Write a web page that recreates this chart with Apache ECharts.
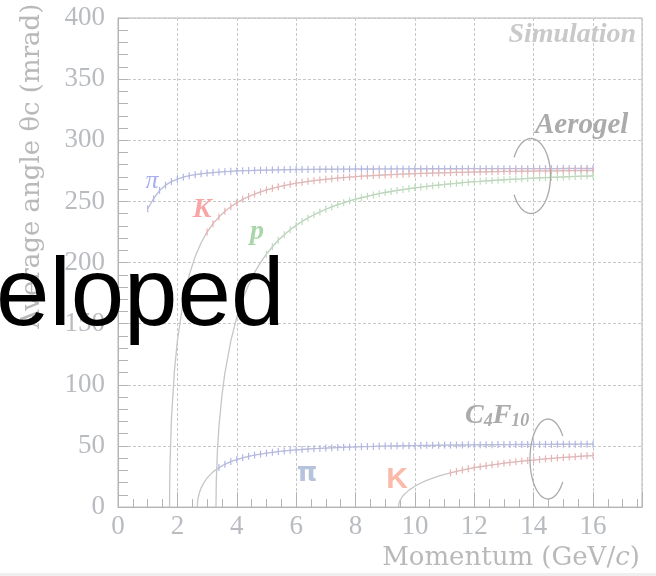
<!DOCTYPE html>
<html>
<head>
<meta charset="utf-8">
<script src="https://cdn.jsdelivr.net/npm/echarts@6/dist/echarts.min.js"></script>
<style>
  html, body { margin: 0; padding: 0; background: #fff; }
  #chart { width: 656px; height: 576px; }
</style>
</head>
<body>
<div id="chart"></div>
<script>
// momentum points of the simulation (GeV/c)
var momenta = [1.0, 1.2, 1.4, 1.6, 1.8, 2.0, 2.2, 2.4, 2.6, 2.8, 3.0, 3.2, 3.4, 3.6, 3.8, 4.0, 4.2, 4.4, 4.6, 4.8,
  5.0, 5.2, 5.4, 5.6, 5.8, 6.0, 6.2, 6.4, 6.6, 6.8, 7.0, 7.2, 7.4, 7.6, 7.8, 8.0, 8.2, 8.4, 8.6, 8.8,
  9.0, 9.2, 9.4, 9.6, 9.8, 10.0, 10.2, 10.4, 10.6, 10.8, 11.0, 11.2, 11.4, 11.6, 11.8, 12.0, 12.2, 12.4, 12.6, 12.8,
  13.0, 13.2, 13.4, 13.6, 13.8, 14.0, 14.2, 14.4, 14.6, 14.8, 15.0, 15.2, 15.4, 15.6, 15.8, 16.0];

// aerogel, angle in mrad
var aeroPi = [244.0, 252.2, 259.0, 263.3, 266.2, 268.3, 269.8, 271.0, 271.9, 272.6, 273.2, 273.6, 274.0, 274.3, 274.6, 274.9, 275.1, 275.2, 275.4, 275.5,
  275.6, 275.7, 275.8, 275.9, 276.0, 276.1, 276.1, 276.2, 276.2, 276.3, 276.3, 276.3, 276.4, 276.4, 276.4, 276.5, 276.5, 276.5, 276.5, 276.6,
  276.6, 276.6, 276.6, 276.6, 276.6, 276.7, 276.7, 276.7, 276.7, 276.7, 276.7, 276.7, 276.7, 276.8, 276.8, 276.8, 276.8, 276.8, 276.8, 276.8,
  276.8, 276.8, 276.8, 276.8, 276.8, 276.8, 276.8, 276.8, 276.8, 276.8, 276.9, 276.9, 276.9, 276.9, 276.9, 276.9];
var aeroK = [224.9, 231.8, 237.3, 241.9, 245.7, 248.9, 251.7, 254.0, 256.0, 257.8,
  259.4, 260.7, 261.9, 263.0, 264.0, 264.9, 265.6, 266.4, 267.0, 267.6,
  268.1, 268.6, 269.1, 269.5, 269.9, 270.2, 270.6, 270.9, 271.2, 271.4,
  271.7, 271.9, 272.1, 272.3, 272.5, 272.7, 272.9, 273.0, 273.2, 273.3,
  273.4, 273.6, 273.7, 273.8, 273.9, 274.0, 274.1, 274.2, 274.3, 274.4,
  274.5, 274.5, 274.6, 274.7, 274.7, 274.8, 274.9, 274.9, 275.0, 275.0,
  275.1, 275.1, 275.2, 275.2, 275.3, 275.3];
var aeroP = [206.9, 212.9, 218.2, 222.8, 226.8, 230.4, 233.6, 236.5, 239.1, 241.4,
  243.6, 245.5, 247.3, 248.9, 250.4, 251.8, 253.0, 254.2, 255.3, 256.3,
  257.3, 258.1, 259.0, 259.7, 260.4, 261.1, 261.7, 262.3, 262.9, 263.4,
  263.9, 264.4, 264.8, 265.3, 265.7, 266.1, 266.4, 266.8, 267.1, 267.4,
  267.7, 268.0, 268.3, 268.5, 268.8, 269.0, 269.2, 269.4, 269.6, 269.8,
  270.0, 270.2, 270.4, 270.6, 270.7, 270.9];

// C4F10
var c4Pi = [32.3, 35.0, 37.2, 38.9, 40.3, 41.5, 42.5, 43.4, 44.1, 44.8,
  45.4, 45.9, 46.4, 46.8, 47.1, 47.5, 47.8, 48.0, 48.3, 48.5,
  48.7, 48.9, 49.1, 49.2, 49.4, 49.5, 49.6, 49.8, 49.9, 50.0,
  50.1, 50.2, 50.2, 50.3, 50.4, 50.5, 50.5, 50.6, 50.7, 50.7,
  50.8, 50.8, 50.9, 50.9, 51.0, 51.0, 51.0, 51.1, 51.1, 51.1,
  51.2, 51.2, 51.2, 51.3, 51.3, 51.3, 51.3, 51.4, 51.4, 51.4,
  51.4, 51.5, 51.5, 51.5];
var c4K = [28.0, 29.2, 30.3, 31.3, 32.2, 33.0, 33.8, 34.6, 35.2, 35.9,
  36.5, 37.0, 37.6, 38.1, 38.5, 39.0, 39.4, 39.8, 40.2, 40.6,
  40.9, 41.2, 41.6, 41.9, 42.1];

// expected curves just above threshold
var aeroKRiseP = [1.7365, 1.74, 1.75, 1.8, 1.9, 2.0, 2.2, 2.4, 2.6, 2.8];
var aeroKRise = [0, 17.3, 33.9, 72.1, 111.2, 136.1, 168.7, 189.9, 205.0, 216.2];
var aeroPRiseP = [3.30, 3.31, 3.35, 3.4, 3.5, 3.6, 3.8, 4.0, 4.2, 4.4, 4.6, 4.8];
var aeroPRise = [0, 21.0, 47.0, 65.8, 91.2, 109.5, 136.0, 155.1, 170.0, 181.9, 191.7, 199.9];
var c4PiRiseP = [2.671, 2.68, 2.70, 2.75, 2.8, 2.9, 3.0, 3.2];
var c4PiRise = [0, 4.3, 7.7, 12.4, 15.7, 20.3, 23.8, 28.8];
var c4KRiseP = [9.448, 9.46, 9.5, 9.6, 9.8, 10.0, 10.2, 10.4, 10.6, 10.8, 11.0];
var c4KRise = [0, 2.7, 5.5, 9.3, 13.9, 17.1, 19.7, 21.8, 23.7, 25.3, 26.7];

var yTicks = [0, 50, 100, 150, 200, 250, 300, 350, 400];
var xTicks = [0, 2, 4, 6, 8, 10, 12, 14, 16];

function pairs(ps, vs) {
  return vs.map(function (v, i) { return [ps[i], v]; });
}

var aeroPiData = pairs(momenta, aeroPi);
var aeroKData = pairs(momenta.slice(10), aeroK);
var aeroPData = pairs(momenta.slice(20), aeroP);
var c4PiData = pairs(momenta.slice(12), c4Pi);
var c4KData = pairs(momenta.slice(51), c4K);

var serif = '"Liberation Serif", serif';
var grey = '#b8bbc0';

function curve(data) {
  return {
    type: 'line', data: data, symbol: 'none', silent: true, z: 2,
    lineStyle: { color: '#c6c6c6', width: 1.3 }
  };
}
function sim(data, color) {
  return {
    type: 'line', data: data, symbol: 'rect', symbolSize: [1.2, 7], showAllSymbol: true, z: 3,
    itemStyle: { color: color },
    lineStyle: { color: color, width: 1, opacity: 0.6 }
  };
}

// open ellipse used as a bracket
function bracket(cx, cy, rx, ry, a0, a1) {
  var pts = [];
  for (var i = 0; i <= 60; i++) {
    var a = (a0 + (a1 - a0) * i / 60) * Math.PI / 180;
    pts.push([cx + rx * Math.cos(a), cy + ry * Math.sin(a)]);
  }
  return { type: 'polyline', shape: { points: pts }, style: { stroke: '#a9a9a9', lineWidth: 1.3, fill: null }, z: 10 };
}

var chart = echarts.init(document.getElementById('chart'));
var option = {
  animation: false,
  backgroundColor: '#fff',
  grid: { left: 118, right: 14, top: 18, bottom: 61, show: true, borderColor: '#b4b4b4', borderWidth: 1 },
  xAxis: [{
    type: 'value', min: 0, max: 17.65, interval: 2,
    name: 'Momentum (GeV/{i|c})', nameLocation: 'middle', nameGap: 28,
    nameTextStyle: {
      fontFamily: '"DejaVu Serif", serif', fontSize: 26, color: '#b9b9b9', padding: [0, 0, 0, 262],
      rich: { i: { fontFamily: '"DejaVu Serif", serif', fontStyle: 'italic', fontSize: 26, color: '#b9b9b9' } }
    },
    axisLine: { lineStyle: { color: '#b4b4b4', width: 1 } },
    axisTick: { inside: true, length: 15, lineStyle: { color: '#b4b4b4' } },
    axisLabel: {
      margin: 6, fontFamily: serif, fontSize: 27, color: grey,
      formatter: function (v) { return xTicks.indexOf(v) >= 0 ? String(v) : ''; }
    },
    splitLine: { show: true, lineStyle: { color: '#c8c8c8', type: [3, 2], width: 1 } }
  }, {
    type: 'value', min: 0, max: 17.65, interval: 0.5, position: 'bottom',
    axisLine: { show: false },
    axisTick: { inside: true, length: 8, lineStyle: { color: '#b4b4b4' } },
    axisLabel: { show: false },
    splitLine: { show: false }
  }],
  yAxis: {
    type: 'value', min: 0, max: 400, interval: 50,
    name: 'Average angle θc (mrad)', nameLocation: 'middle', nameGap: 73,
    nameTextStyle: { fontFamily: '"DejaVu Serif", serif', fontSize: 26, color: '#b9b9b9', padding: [0, 0, 0, 193] },
    axisLine: { lineStyle: { color: '#b4b4b4', width: 1 } },
    axisTick: { inside: true, length: 10, lineStyle: { color: '#b4b4b4' } },
    minorTick: { show: true, splitNumber: 5, length: 10, lineStyle: { color: '#b4b4b4' } },
    axisLabel: {
      margin: 13, fontFamily: serif, fontSize: 27, color: grey,
      formatter: function (v) { return yTicks.indexOf(v) >= 0 ? String(v) : ''; }
    },
    splitLine: { show: true, lineStyle: { color: '#c8c8c8', type: [3, 2], width: 1 } }
  },
  series: [
    curve(aeroPiData),
    curve(pairs(aeroKRiseP, aeroKRise).concat(aeroKData)),
    curve(pairs(aeroPRiseP, aeroPRise).concat(aeroPData)),
    curve(pairs(c4PiRiseP, c4PiRise).concat(c4PiData)),
    curve(pairs(c4KRiseP, c4KRise).concat(c4KData)),
    sim(aeroPiData, '#b0b6ec'),
    sim(aeroKData, '#eeb0b0'),
    sim(aeroPData, '#b9e0b9'),
    sim(c4PiData, '#b0b6ec'),
    sim(c4KData, '#eeb0b0')
  ],
  graphic: [
    { type: 'text', x: 636, y: 35, z: 10, style: { text: 'Simulation', align: 'right', verticalAlign: 'middle', font: 'italic bold 28px "Liberation Serif"', fill: '#c9c9c9' } },
    { type: 'text', x: 535, y: 126, z: 10, style: { text: 'Aerogel', align: 'left', verticalAlign: 'middle', font: 'italic bold 29px "Liberation Serif"', fill: '#ababab' } },
    {
      type: 'text', x: 465, y: 416, z: 10,
      style: {
        text: '{b|C}{s|4}{b|F}{s|10}', align: 'left', verticalAlign: 'middle',
        rich: {
          b: { font: 'italic bold 28px "Liberation Serif"', fill: '#ababab', lineHeight: 28 },
          s: { font: 'italic bold 18px "Liberation Serif"', fill: '#ababab', lineHeight: 14, verticalAlign: 'bottom' }
        }
      }
    },
    { type: 'text', x: 152, y: 181, z: 10, style: { text: 'π', align: 'center', verticalAlign: 'middle', font: 'italic 26px "Liberation Serif"', fill: '#a7aef5' } },
    { type: 'text', x: 202, y: 210, z: 10, style: { text: 'K', align: 'center', verticalAlign: 'middle', font: 'italic bold 28px "Liberation Serif"', fill: '#f7a5a5' } },
    { type: 'text', x: 257, y: 232, z: 10, style: { text: 'p', align: 'center', verticalAlign: 'middle', font: 'italic bold 28px "Liberation Serif"', fill: '#a9d6a9' } },
    { type: 'text', x: 307, y: 474, z: 10, style: { text: 'π', align: 'center', verticalAlign: 'middle', font: 'bold 26px "DejaVu Sans"', fill: '#b7c3dc' } },
    { type: 'text', x: 397, y: 480, z: 10, style: { text: 'K', align: 'center', verticalAlign: 'middle', font: 'bold 30px "Liberation Sans"', fill: '#fbb9a9' } },
    bracket(531, 176, 19.5, 37.5, -150, 150),
    bracket(548, 459, 18, 40, 35, 325),
    { type: 'rect', shape: { x: 0, y: 573, width: 656, height: 3 }, style: { fill: '#efefef' }, z: 10 },
    { type: 'text', x: -4, y: 299, z: 100, style: { text: 'eloped', align: 'left', verticalAlign: 'middle', font: '96px "Liberation Sans"', fill: '#000' } }
  ]
};

chart.setOption(option);
</script>
</body>
</html>
